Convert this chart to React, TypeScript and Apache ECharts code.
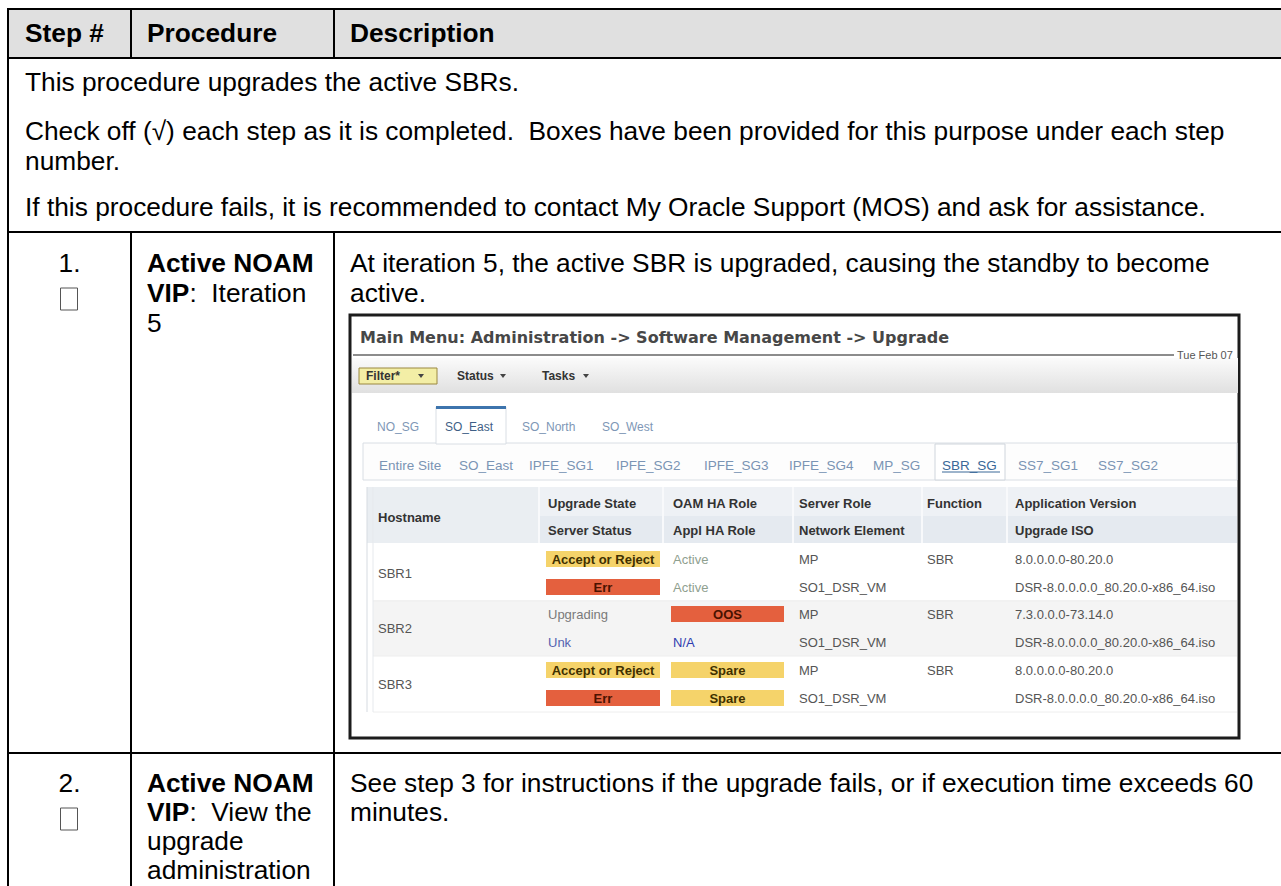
import React, { useEffect, useRef } from "react";
import * as echarts from "echarts";

// ---------- content ----------
const headerLabels = ["Step #", "Procedure", "Description"];
const introLines = [
  "This procedure upgrades the active SBRs.",
  "Check off (\u221A) each step as it is completed.  Boxes have been provided for this purpose under each step",
  "number.",
  "If this procedure fails, it is recommended to contact My Oracle Support (MOS) and ask for assistance.",
];
const stepNumbers = ["1.", "2."];
const procedureLines = [
  ["{b|Active NOAM}", "{b|VIP}:  Iteration", "5"],
  ["{b|Active NOAM}", "{b|VIP}:  View the", "upgrade", "administration"],
];
const descriptionLines = [
  ["At iteration 5, the active SBR is upgraded, causing the standby to become", "active."],
  ["See step 3 for instructions if the upgrade fails, or if execution time exceeds 60", "minutes."],
];
const screenTitle = "Main Menu: Administration -> Software Management -> Upgrade";
const screenDate = "Tue Feb 07";
const toolbarItems = ["Filter*", "Status", "Tasks"];
const siteTabs = ["NO_SG", "SO_East", "SO_North", "SO_West"];
const activeSiteTab = "SO_East";
const groupTabs = ["Entire Site", "SO_East", "IPFE_SG1", "IPFE_SG2", "IPFE_SG3", "IPFE_SG4", "MP_SG", "SBR_SG", "SS7_SG1", "SS7_SG2"];
const activeGroupTab = "SBR_SG";
const headerTop = ["Upgrade State", "OAM HA Role", "Server Role", "Function", "Application Version"];
const headerBottom = ["Server Status", "Appl HA Role", "Network Element", "", "Upgrade ISO"];
const hostnames = ["SBR1", "SBR2", "SBR3"];
const upgradeStates = ["Accept or Reject", "Upgrading", "Accept or Reject"];
const serverStatuses = ["Err", "Unk", "Err"];
const oamHaRoles = ["Active", "OOS", "Spare"];
const applHaRoles = ["Active", "N/A", "Spare"];
const serverRoles = ["MP", "MP", "MP"];
const networkElements = ["SO1_DSR_VM", "SO1_DSR_VM", "SO1_DSR_VM"];
const functionsCol = ["SBR", "SBR", "SBR"];
const appVersions = ["8.0.0.0.0-80.20.0", "7.3.0.0.0-73.14.0", "8.0.0.0.0-80.20.0"];
const upgradeIsos = [
  "DSR-8.0.0.0.0_80.20.0-x86_64.iso",
  "DSR-8.0.0.0.0_80.20.0-x86_64.iso",
  "DSR-8.0.0.0.0_80.20.0-x86_64.iso",
];

// ---------- styling ----------
const FONT = "'Liberation Sans', Arial, sans-serif";
const UIFONT = "'DejaVu Sans', Verdana, sans-serif";
const BODY = 26.3;
const badgeStyles: Record<string, any> = {
  "Accept or Reject": { bg: "#f5d36a", color: "#3f3000", bold: true },
  Err: { bg: "#e4603e", color: "#4a1200", bold: true },
  OOS: { bg: "#e4603e", color: "#4a1200", bold: true },
  Spare: { bg: "#f5d36a", color: "#3f3000", bold: true },
  Active: { color: "#8fa08f" },
  Upgrading: { color: "#7a7a7a" },
  Unk: { color: "#5563b0" },
  "N/A": { color: "#2f3cb0" },
};

function T(x: number, y: number, text: string, o: any = {}) {
  const size = o.size ?? BODY;
  return {
    type: "text",
    x,
    y,
    silent: true,
    z: o.z ?? 10,
    style: {
      text,
      fill: o.color ?? "#000",
      fontSize: size,
      fontWeight: o.weight ?? "normal",
      fontFamily: o.family ?? FONT,
      textAlign: o.align ?? "left",
      textVerticalAlign: "middle",
      rich: {
        b: { fontSize: size, fontWeight: "bold", fontFamily: o.family ?? FONT, fill: o.color ?? "#000" },
      },
    },
  };
}
function L(x1: number, y1: number, x2: number, y2: number, stroke = "#000", lineWidth = 2, z = 5) {
  return { type: "line", silent: true, z, shape: { x1, y1, x2, y2 }, style: { stroke, lineWidth } };
}
function R(x: number, y: number, width: number, height: number, style: any, z = 2) {
  return { type: "rect", silent: true, z, shape: { x, y, width, height }, style };
}

function buildElements() {
  const els: any[] = [];
  const W = 1281;
  const left = 8;
  const c1 = 131;
  const c2 = 334;
  const top = 9;
  const headBottom = 58;
  const row1 = 232;
  const row2 = 753;
  const H = 886;

  // header
  els.push(R(left, top, W - left, headBottom - top, { fill: "#e0e0e0" }, 1));
  const headX = [25, 147, 350];
  headerLabels.forEach((h, i) => els.push(T(headX[i], 33, h, { weight: "bold" })));
  // intro
  const introY = [82, 131, 161, 207];
  introLines.forEach((t, i) => els.push(T(25, introY[i], t)));

  // grid lines
  els.push(L(left - 1, top, W, top));
  els.push(L(left, top, left, H));
  els.push(L(left, headBottom, W, headBottom));
  els.push(L(c1, top, c1, headBottom));
  els.push(L(c2, top, c2, headBottom));
  els.push(L(left, row1, W, row1));
  els.push(L(left, row2, W, row2));
  els.push(L(c1, row1, c1, H));
  els.push(L(c2, row1, c2, H));

  // steps
  const firstLine = [263, 783];
  const lineGap = [30, 29];
  stepNumbers.forEach((s, i) => {
    const y0 = firstLine[i];
    els.push(T((left + c1) / 2, y0, s, { align: "center" }));
    els.push(R((left + c1) / 2 - 9, y0 + 25, 17, 22, { fill: "#fff", stroke: "#555", lineWidth: 1 }, 6));
    procedureLines[i].forEach((t, j) => els.push(T(147, y0 + j * lineGap[i], t)));
    descriptionLines[i].forEach((t, j) => els.push(T(350, y0 + j * lineGap[i], t)));
  });

  // ---------- screenshot ----------
  const bx = 350, by = 315, bw = 889, bh = 423;
  els.push(R(bx, by, bw, bh, { fill: "#fff", stroke: "#1c1c1c", lineWidth: 3 }, 3));
  els.push(T(360, 337, screenTitle, { size: 16, weight: "bold", color: "#474747", z: 12, family: UIFONT }));
  els.push(L(353, 355, 1174, 355, "#8c8c8c", 2, 12));
  els.push(T(1177, 355, screenDate, { size: 11, color: "#555", z: 12 }));
  // toolbar
  els.push(
    R(352, 358, 886, 35, {
      fill: { type: "linear", x: 0, y: 0, x2: 0, y2: 1, colorStops: [{ offset: 0, color: "#fbfbfb" }, { offset: 1, color: "#e0e0e0" }] },
    }, 4)
  );
  els.push(R(359, 368, 78, 16, { fill: "#f3eea6", stroke: "#9a8840", lineWidth: 1 }, 6));
  const toolX = [366, 457, 542];
  const toolW = [42, 38, 36];
  toolbarItems.forEach((t, i) => {
    els.push(T(toolX[i], 376, t, { size: 12, weight: "bold", color: "#333", z: 12 }));
    const tx = toolX[i] + toolW[i] + (i === 0 ? 13 : 8);
    els.push({ type: "polygon", silent: true, z: 12, shape: { points: [[tx - 3, 374], [tx + 3, 374], [tx, 378]] }, style: { fill: "#444" } });
  });
  // site tabs
  const siteX = [377, 445, 522, 602];
  els.push(R(436, 407, 70, 37, { fill: "#fff", stroke: "#d9dee4", lineWidth: 1 }, 6));
  els.push(R(436, 406, 70, 3, { fill: "#3d74ad" }, 7));
  siteTabs.forEach((t, i) =>
    els.push(T(siteX[i], 427, t, { size: 12, color: t === activeSiteTab ? "#3f5f86" : "#7e97b6", z: 12 }))
  );
  // group tabs
  els.push(R(363, 443, 874, 37, { fill: "#fdfdfd", stroke: "#d9dee4", lineWidth: 1 }, 5));
  const groupX = [379, 459, 529, 616, 704, 789, 873, 942, 1018, 1098];
  groupTabs.forEach((t, i) => {
    const active = t === activeGroupTab;
    if (active) {
      els.push(R(935, 444, 70, 36, { fill: "#fff", stroke: "#cfd5dc", lineWidth: 1 }, 6));
      els.push(L(942, 472, 1000, 472, "#3a6898", 1, 12));
    }
    els.push(T(groupX[i], 465, t, { size: 13.5, color: active ? "#3a6898" : "#7a94b4", z: 12 }));
  });
  // data table header
  const tLeft = 367, tRight = 1237;
  els.push(R(tLeft, 487, tRight - tLeft, 29, { fill: "#eef1f5" }, 5));
  els.push(R(tLeft, 516, tRight - tLeft, 27, { fill: "#e5eaf0" }, 5));
  els.push(R(tLeft, 487, 172, 56, { fill: "#eaeef2" }, 5));
  els.push(L(tLeft, 487, tLeft, 712, "#d6dbe1", 1, 8));
  els.push(L(tLeft + 6, 487, tLeft + 6, 712, "#e6e9ed", 1, 8));
  const colX = [539, 663, 793, 922, 1007];
  colX.forEach((x) => els.push(L(x, 487, x, 543, "#f8f9fb", 2, 8)));
  els.push(T(378, 517, "Hostname", { size: 13, weight: "bold", color: "#333", z: 12 }));
  const textX = [548, 673, 799, 927, 1015];
  headerTop.forEach((t, i) => els.push(T(textX[i], 503, t, { size: 13, weight: "bold", color: "#333", z: 12 })));
  headerBottom.forEach((t, i) => t && els.push(T(textX[i], 530, t, { size: 13, weight: "bold", color: "#333", z: 12 })));

  // data rows
  const rowY = [545, 600, 656];
  const rowH = 56;
  hostnames.forEach((h, i) => {
    const y = rowY[i];
    if (i % 2 === 1) els.push(R(tLeft + 6, y, tRight - tLeft - 6, rowH, { fill: "#f4f4f4" }, 5));
    els.push(L(tLeft + 6, y + rowH, tRight, y + rowH, "#eeeeee", 1, 6));
    const y1 = y + 14, y2 = y + 42;
    els.push(T(378, y + 28, h, { size: 13, color: "#555", z: 12 }));
    const cell = (x: number, w: number, yy: number, v: string) => {
      const st = badgeStyles[v] || { color: "#555" };
      if (st.bg) {
        els.push(R(x, yy - 8, w, 16, { fill: st.bg }, 9));
        els.push(T(x + w / 2, yy, v, { size: 13, weight: "bold", color: st.color, align: "center", z: 12 }));
      } else {
        els.push(T(x + 2, yy, v, { size: 13, color: st.color, z: 12 }));
      }
    };
    cell(546, 114, y1, upgradeStates[i]);
    cell(546, 114, y2, serverStatuses[i]);
    cell(671, 113, y1, oamHaRoles[i]);
    cell(671, 113, y2, applHaRoles[i]);
    els.push(T(799, y1, serverRoles[i], { size: 13, color: "#555", z: 12 }));
    els.push(T(799, y2, networkElements[i], { size: 13, color: "#555", z: 12 }));
    els.push(T(927, y1, functionsCol[i], { size: 13, color: "#555", z: 12 }));
    els.push(T(1015, y1, appVersions[i], { size: 13, color: "#555", z: 12 }));
    els.push(T(1015, y2, upgradeIsos[i], { size: 13, color: "#555", z: 12 }));
  });

  return els;
}

export default function App() {
  const ref = useRef<HTMLDivElement>(null);
  useEffect(() => {
    document.body.style.margin = "0";
    document.body.style.overflow = "hidden";
    const chart = echarts.init(ref.current!, null, { renderer: "svg" });
    chart.setOption({
      animation: false,
      backgroundColor: "#ffffff",
      graphic: { elements: buildElements() },
    });
    return () => chart.dispose();
  }, []);
  return <div ref={ref} style={{ width: 1281, height: 886 }} />;
}
